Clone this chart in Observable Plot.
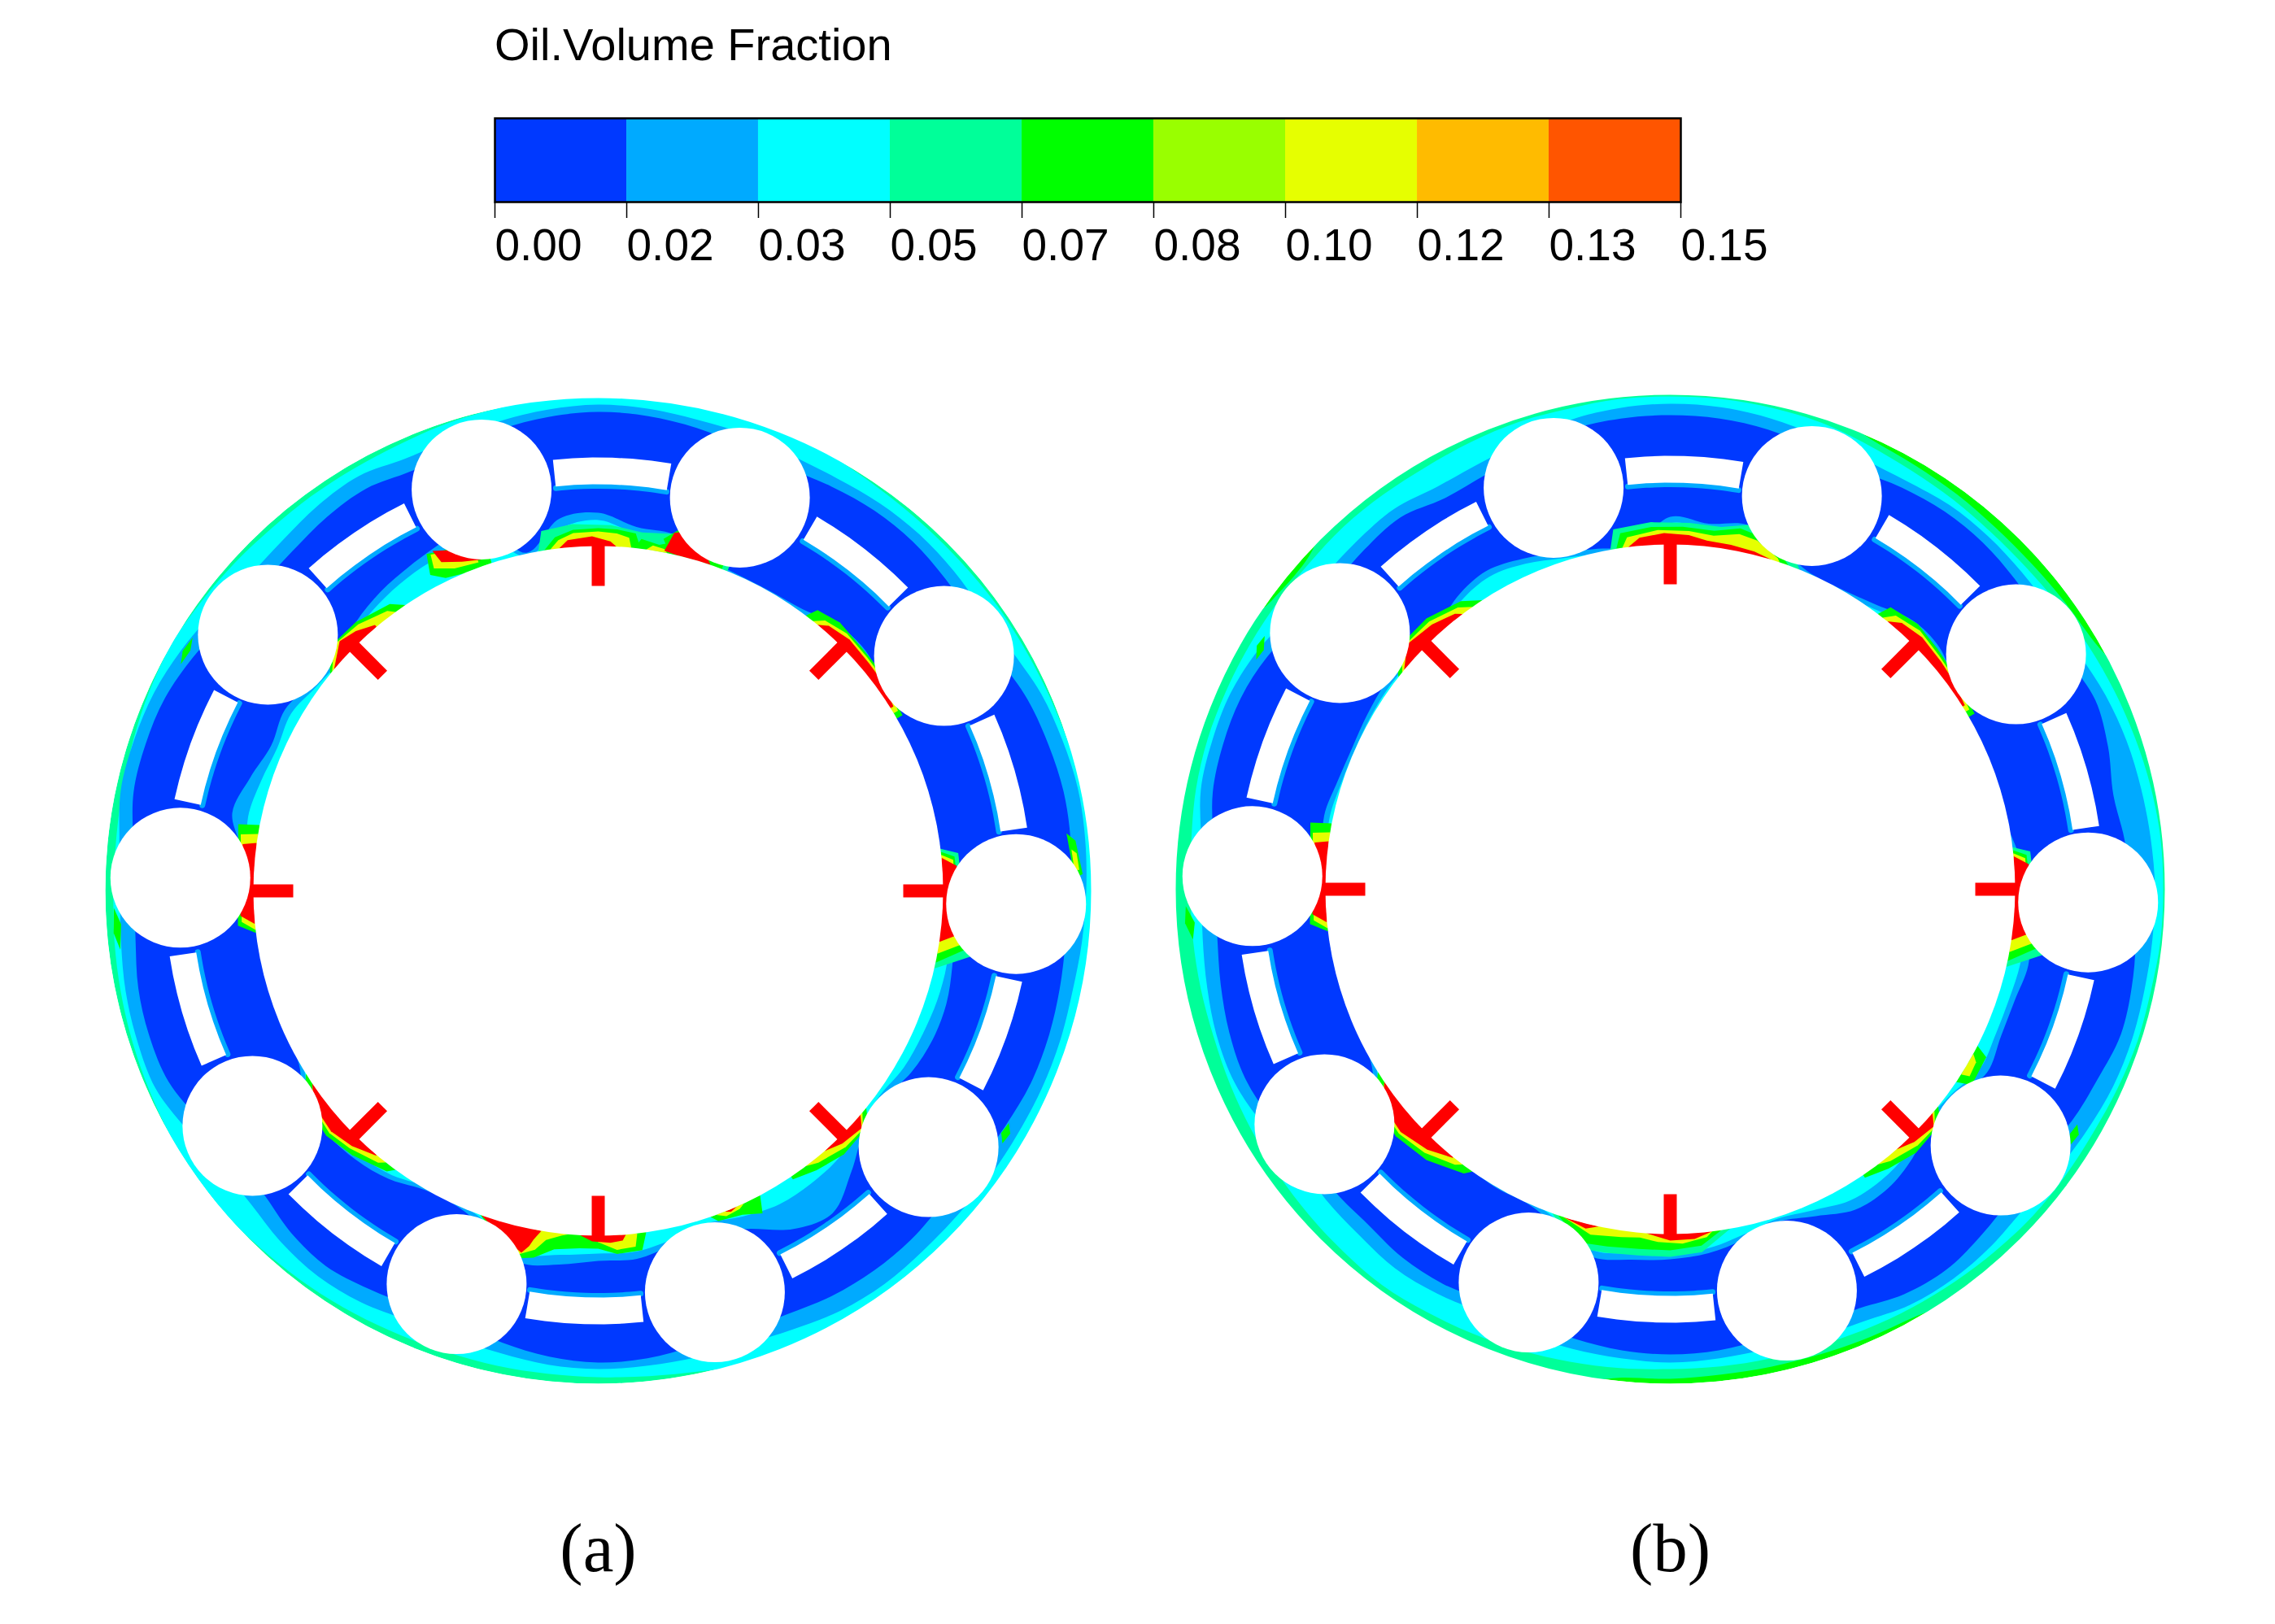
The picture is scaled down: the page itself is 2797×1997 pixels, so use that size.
<!DOCTYPE html>
<html><head><meta charset="utf-8">
<script src="https://cdn.jsdelivr.net/npm/d3@7"></script>
<script src="https://cdn.jsdelivr.net/npm/@observablehq/plot@0.6"></script>
<style>html,body{margin:0;background:#fff}#page{position:relative;width:2797px;height:1997px;overflow:hidden}
#title{position:absolute;left:608px;top:22px;font:56px "Liberation Sans",Arial,sans-serif;color:#000;white-space:nowrap}
svg{display:block}</style></head>
<body><div id="page"><div id="title">Oil.Volume Fraction</div></div>
<script>
const legendBreaks=[0,0.01667,0.03333,0.05,0.06667,0.08333,0.1,0.11667,0.13333,0.15];
const levelColors=["#0039ff","#00aaff","#00ffff","#00ff99","#00ff00","#99ff00","#e6ff00","#ffbb00","#ff5500","#ff0000"];
const DARK=.008,LIGHT=.025,CYAN=.042,TEAL=.058,GREEN=.075,LIME=.092,YELLOW=.108,ORANGE=.125,RED=.16;
const panels=["a","b"];
const panelShift={a:0,b:2};
const outerRadius={a:606,b:608};
const innerRadius=424;
const ballOrbit=514, ballRadius=86;
const ballAngles=[-16.2,19.8,55.8,91.8,127.8,163.8,199.8,235.8,271.8,307.8];
const slotStart=[-6,30.3,66,102.1,138.2,174,210,246.2,282.2,318.1];
const slotEnd=[9.7,45.6,81.6,117.4,153.4,189.7,225.6,261.3,297.6,333.4];
const slotInner=500, slotOuter=533;
const markAngles=[0,45,90,135,180,225,270,315];
const markFrom=375, markTo=426;
// profile radii, one every 6 degrees clockwise from north
const tealEdgeA=[612,612,612,612,612,606,603,602,602,603,603,604,606,612,612,612,612,612,612,612,612,612,612,612,612,612,612,612,604,600,598,597,597,597,598,600,602,604,606,606,606,604,602,600,598,596,596,598,601,604,606,604,602,600,600,600,601,604,606,610];
const cyanEdgeA=[598,596,592,590,586,586,589,590,588,585,588,596,600,603,602,600,598,596,597,597,596,596,595,596,598,596,590,586,586,587,588,586,581,578,578,584,586,582,575,575,585,596,596,594,590,588,592,600,600,598,592,584,578,580,586,589,582,584,590,595];
const darkEdgeA=[589,587,582,575,570,574,578,578,574,570,570,578,582,585,584,580,578,580,582,582,578,575,572,576,577,575,570,570,572,578,580,576,568,560,560,565,570,565,555,555,565,578,580,578,572,570,575,584,585,583,575,565,560,562,568,571,565,570,580,586];
const tealEdgeB=[606,606,605,603,598,594,592,590,590,592,595,598,601,604,606,606,606,604,604,602,600,600,600,598,596,594,592,590,590,590,590,592,594,596,598,600,602,600,598,596,594,592,590,590,590,590,592,596,598,598,598,598,598,600,600,600,602,604,604,606];
const greenEdgeB=[620,620,620,620,606,602,600,598,598,600,604,620,620,620,620,620,620,620,620,620,620,620,620,620,620,606,603,601,600,600,602,604,620,620,620,620,620,620,620,620,620,620,620,620,620,620,620,620,620,620,620,605,603,620,620,620,620,620,620,620];
const cyanEdgeB=[597,596,592,586,580,580,584,584,582,580,580,586,590,592,594,596,596,596,597,596,592,588,586,590,592,590,582,580,578,580,582,580,578,574,570,574,576,572,570,566,578,586,586,582,578,576,580,590,592,592,586,576,574,576,578,572,574,580,590,595];
const darkEdgeB=[583,582,578,570,565,570,574,574,570,565,565,572,566,557,562,565,575,580,582,575,570,560,565,572,578,575,565,565,565,570,572,570,565,560,555,560,560,555,555,550,565,572,570,565,560,560,565,575,578,578,572,560,558,562,565,555,558,565,578,582];
// radius reached by the inner plumes, one every 6 degrees
const innerLightA=[465,450,448,430,425,425,428,440,442,432,420,420,420,420,425,432,440,445,450,450,445,435,440,465,490,480,455,440,445,455,455,462,467,440,425,425,438,445,448,445,425,420,420,420,420,440,440,460,450,440,445,435,430,445,455,462,470,480,425,460];
const innerCyanA=[456,442,440,424,420,420,422,434,434,426,420,420,420,420,420,426,434,438,438,436,434,428,432,442,445,445,438,430,438,446,446,450,456,432,420,420,432,438,442,438,420,420,420,420,420,434,434,440,436,432,436,428,426,438,446,452,456,460,420,448];
const innerLightB=[458,452,458,440,425,425,432,445,445,432,420,420,420,420,430,440,445,450,445,445,450,435,430,445,455,455,440,430,440,450,455,458,462,440,425,425,425,445,452,445,425,420,420,420,420,430,430,435,430,428,430,432,430,430,445,452,445,435,428,425];
const innerCyanB=[450,446,452,432,420,420,426,438,438,426,420,420,420,420,424,434,438,440,438,438,440,428,425,436,442,442,432,426,434,444,448,450,454,432,420,420,420,438,446,438,420,420,420,420,420,425,425,428,425,424,425,426,425,425,438,444,438,428,422,420];
// plume and spot outlines: level, then angle,radius pairs
const spotsA=[
[TEAL,[-10,424,-9,448,-4,452,2,450,7,444,13,450,22,435,22,424]],
[GREEN,[-9,424,-7,438,-4,445,0,446,3,445,6,442,7,425]],
[YELLOW,[-8,424,-6.5,434,-4,441,0,442,3,440,5,436,5.5,424]],
[RED,[-6.5,424,-5,433,-1,436,2,430,3,424]],
[GREEN,[6,424,7,436,10,432,12,438,13,424]],
[YELLOW,[8,424,9,430,11,428,11.5,424]],
[GREEN,[10.5,440,13,458,21,432,21,424,12,424]],
[RED,[11,426,12,450,14,456,18,432,19,424,13,424]],
[GREEN,[332,440,333,465,339,455,342,430,342,424,337,424,334,428]],
[YELLOW,[333,445,333.5,462,340,450,340,430,336,434]],
[RED,[334.5,448,334,465,341,445,340.5,432,337.5,438]],
[GREEN,[37,424,38,438,42,444,47,441,52,440,60,432,60,424]],
[YELLOW,[38.5,424,40,434,44,440,49,438,54,437,59,430,59,424]],
[RED,[39.5,424,41,432,45,437,50,435,54,434,58,428,58,424]],
[TEAL,[83,424,84,445,100,465,103,424]],
[GREEN,[83.5,424,84.5,440,99,458,102,424]],
[YELLOW,[84,424,85,438,98.5,450,100.5,424]],
[RED,[84.5,424,86,442,97,445,98.5,424]],
[GREEN,[83,580,84,590,88,596,88.5,586]],
[YELLOW,[85,584,85.5,590,87.5,592,87.5,586]],
[GREEN,[129,424,131,440,137,443,142,436,146,428,146,424]],
[YELLOW,[130,424,132,438,136,438,141,430,143,424]],
[RED,[130.5,424,132,436,136,432,139,424]],
[GREEN,[200,424,193,464,190,458,187,444,183,440,180,440,177,447,173,445,172,424]],
[YELLOW,[199,424,192.5,458,190,448,188.5,434,186,426,185,424]],
[YELLOW,[182,424,180,432,177,442,174,440,173.5,424]],
[RED,[199.8,424,197,435,192,455,191,445,190.5,436,189.5,424]],
[RED,[183,424,181,431,178,433,176,431,175.4,424]],
[GREEN,[161,424,160,432,156,436,153,445,152,424]],
[YELLOW,[160,424,158.5,430,156,428,155,424]],
[RED,[158.5,424,157.5,427,156.3,424]],
[GREEN,[238,424,234,445,228,450,223,444,217,432,216,424]],
[YELLOW,[236,424,233,440,228,445,224,440,219,430,218,424]],
[RED,[236,424,233,438,228,442,224,436,220,425,220,424]],
[GREEN,[263,424,264.5,445,280.5,450,281,424]],
[YELLOW,[263.5,424,265,440,279,445,279.5,424]],
[RED,[264.5,424,266,441,277.5,441,278,424]],
[GREEN,[263,592,265,598,268,596,266,588]],
[GREEN,[298.5,584,300,590,302,588,300.5,582]],
[GREEN,[119.5,580,120.5,588,122,586,121,578]],
[GREEN,[309,424,312,446,318,445,324,436,326,424]],
[YELLOW,[309.5,424,313,444,318,441,323,431,324,424]],
[RED,[310,424,314,442,317,437,320,427,320,424]]
];
const spotsB=[
[TEAL,[-10,424,-9,448,-3,452,3,451,8,450,12,458,16,452,21,432,22,424]],
[GREEN,[-9,424,-8,442,-3,446,2,446,7,444,11,452,14,448,19,430,20,424]],
[YELLOW,[-8,424,-7,436,-2,442,3,441,7,438,11,445,14,442,18,428,18.5,424]],
[RED,[-7,424,-5,434,-1,438,3,436,6,431,10,430,14,428,17,424]],
[GREEN,[37,424,38,440,43,446,48,442,53,438,60,432,60,424]],
[YELLOW,[38,424,39.5,436,44,442,49,438,54,435,59,429,59,424]],
[RED,[39,424,41,434,45,438,50,435,54,432,58,427,58,424]],
[TEAL,[83,424,84,445,100,465,103,424]],
[GREEN,[83.5,424,84.5,440,99,458,102,424]],
[YELLOW,[84,424,85,438,98.5,450,100.5,424]],
[RED,[84.5,424,86,442,97,445,98.5,424]],
[GREEN,[117,424,118,440,123,442,124,424]],
[YELLOW,[118.5,424,119.5,432,122,434,122.5,424]],
[GREEN,[129,424,131,440,137,443,142,436,146,428,146,424]],
[YELLOW,[130,424,132,438,136,438,141,430,143,424]],
[RED,[130.5,424,132,436,136,432,139,424]],
[TEAL,[200,424,195,456,190,454,185,452,180,452,175,448,170,424]],
[GREEN,[199,424,194,448,190,446,185,444,180,444,175,440,171.5,424]],
[YELLOW,[198,424,193,436,188,432,185,430,182,434,178,436,174,430,173,424]],
[RED,[198,424,194,430,192,424]],
[RED,[184,424,180,432,176,431,173,424]],
[GREEN,[238,424,234,448,228,454,222,448,216,432,215,424]],
[YELLOW,[236,424,233,445,228,449,223,443,218,430,217,424]],
[RED,[236,424,233,442,228,446,223,438,219,425,219,424]],
[GREEN,[263,424,264.5,445,280.5,450,281,424]],
[YELLOW,[263.5,424,265,440,279,445,279.5,424]],
[RED,[264.5,424,266,441,277.5,441,278,424]],
[GREEN,[264,590,266,598,268,596,266,586]],
[GREEN,[299,582,300.5,590,302,588,300.5,580]],
[GREEN,[120,578,121,586,122.5,584,121.5,576]],
[GREEN,[308,424,311,448,318,448,324,438,327,424]],
[YELLOW,[309,424,312,444,318,443,323,434,325,424]],
[RED,[309.5,424,313,442,318,438,322,430,323,424]]
];
const colorScale={type:"threshold",domain:legendBreaks.slice(1),range:levelColors};
const toXY=(panel,t,r)=>{const a=t*Math.PI/180;return {panel,x:r*Math.sin(a),y:r*Math.cos(a)+panelShift[panel]};};
const profileAngles=d3.range(60).map(i=>i*6);
let uid=0;
const profile=(panel,level,radii)=>{const id=uid++;return profileAngles.map((t,i)=>({...toXY(panel,t,radii[i]),id,level}));};
const outline=(panel,level,pairs)=>{const id=uid++;const out=[];for(let i=0;i<pairs.length;i+=2)out.push({...toXY(panel,pairs[i],pairs[i+1]),id,level});return out;};
const smooth=[
 ...profile("a",TEAL,tealEdgeA),...profile("a",CYAN,cyanEdgeA),...profile("a",LIGHT,darkEdgeA.map((r,i)=>cyanEdgeA[i])),
];
const rings=[];
for(const [p,g,t,c,d,il,ic] of [["a",null,tealEdgeA,cyanEdgeA,darkEdgeA,innerLightA,innerCyanA],["b",greenEdgeB,tealEdgeB,cyanEdgeB,darkEdgeB,innerLightB,innerCyanB]]){
  if(g) rings.push(...profile(p,TEAL,g));
  rings.push(...profile(p,CYAN,t),...profile(p,LIGHT,c),...profile(p,DARK,d),...profile(p,LIGHT,il),...profile(p,CYAN,ic));
}
const spots=[...spotsA.flatMap(([l,q])=>outline("a",l,q)),...spotsB.flatMap(([l,q])=>outline("b",l,q))];
const slotRows=[],slotEdges=[];
for(const p of panels) slotStart.forEach((s,k)=>{
  const id=uid++,e=slotEnd[k],ts=d3.range(0,7).map(j=>s+(e-s)*j/6);
  ts.forEach(t=>slotRows.push({...toXY(p,t,slotOuter),id}));
  ts.slice().reverse().forEach(t=>slotRows.push({...toXY(p,t,slotInner),id}));
  ts.forEach(t=>slotEdges.push({...toXY(p,t,slotInner-2),id}));
});
const centers=panels.map(panel=>({panel,x:0,y:panelShift[panel],radius:outerRadius[panel]}));
const balls=panels.flatMap(p=>ballAngles.map(t=>toXY(p,t,ballOrbit)));
const marks=panels.flatMap(p=>markAngles.map(t=>{const a=toXY(p,t,markFrom),b=toXY(p,t,markTo);return {panel:p,x1:a.x,y1:a.y,x2:b.x,y2:b.y};}));
const legendBins=d3.pairs(legendBreaks).map(([lo,hi])=>({lo,hi,mid:(lo+hi)/2}));

const legend=Plot.plot({width:2797,height:400,marginLeft:608,marginRight:731,marginTop:145,marginBottom:152,
 style:{background:"transparent",fontFamily:'"Liberation Sans",Arial,sans-serif',color:"#000"},
 x:{domain:[0,0.15],label:null},y:{axis:null},color:colorScale,
 marks:[
  Plot.rect(legendBins,{x1:"lo",x2:"hi",fill:"mid",inset:0}),
  Plot.frame({stroke:"#000",strokeWidth:2.5}),
  Plot.axisX({ticks:legendBreaks,tickFormat:d3.format(".2f"),tickSize:20,tickPadding:12,fontSize:55,textAnchor:"start",label:null,stroke:"#000",strokeWidth:1.5,strokeOpacity:1})
 ]});
const main=Plot.plot({width:2797,height:1597,marginLeft:76,marginRight:85,marginTop:0,marginBottom:140,
 style:{background:"transparent",color:"#000"},
 x:{domain:[-659,659],axis:null},y:{domain:[-762,695],axis:null},
 fx:{domain:panels,padding:0,label:null},r:{type:"identity"},color:colorScale,
 marks:[
  Plot.dot(centers,{x:"x",y:"y",fx:"panel",r:"radius",fill:panel=>panel.panel==="b"?"#00ff00":"#00ff99"}),
  Plot.line(rings,{x:"x",y:"y",fx:"panel",z:"id",fill:"level",stroke:"none",curve:"catmull-rom-closed"}),
  Plot.line(spots,{x:"x",y:"y",fx:"panel",z:"id",fill:"level",stroke:"none",curve:"linear-closed"}),
  Plot.line(slotEdges,{x:"x",y:"y",fx:"panel",z:"id",stroke:levelColors[1],strokeWidth:7,curve:"catmull-rom"}),
  Plot.line(slotRows,{x:"x",y:"y",fx:"panel",z:"id",fill:"#fff",stroke:"none",curve:"linear-closed"}),
  Plot.dot(balls,{x:"x",y:"y",fx:"panel",r:ballRadius,fill:"#fff",stroke:"none"}),
  Plot.dot(centers,{x:"x",y:"y",fx:"panel",r:innerRadius,fill:"#fff",stroke:"none"}),
  Plot.link(marks,{x1:"x1",y1:"y1",x2:"x2",y2:"y2",fx:"panel",stroke:"#ff0000",strokeWidth:16}),
  Plot.dot(centers,{x:"x",y:"y",fx:"panel",r:d=>d.radius+30,fill:"none",stroke:"#fff",strokeWidth:60}),
  Plot.axisFx({anchor:"bottom",tickSize:0,tickPadding:14,fontSize:85,fontFamily:'"Liberation Serif",serif',tickFormat:d=>"("+d+")",label:null})
 ]});
const page=document.getElementById("page");
page.appendChild(legend);page.appendChild(main);
</script></body></html>
